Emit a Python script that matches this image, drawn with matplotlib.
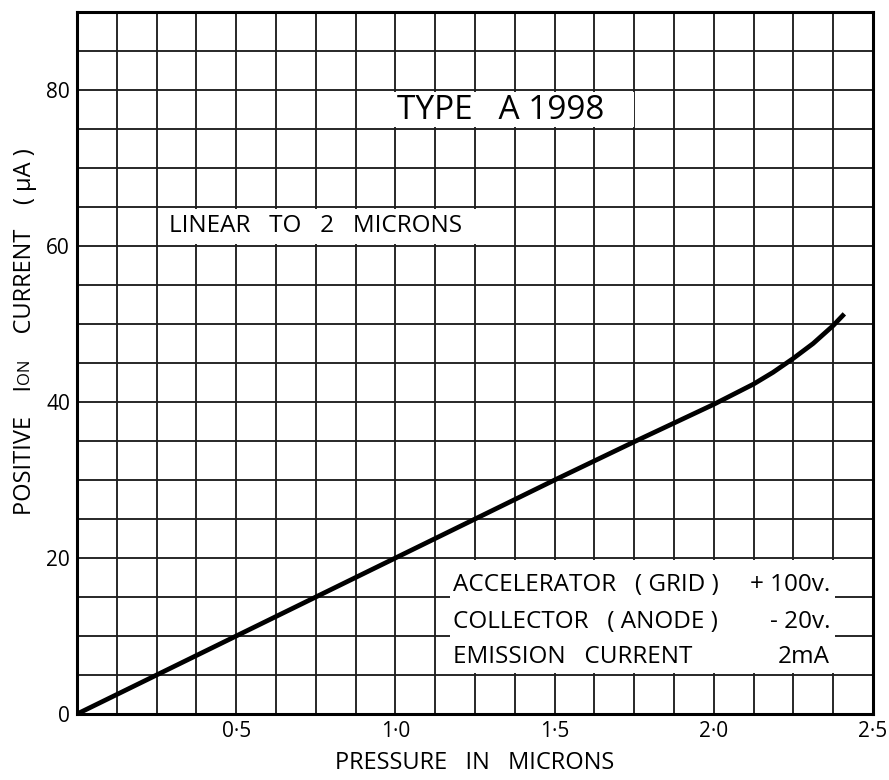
import numpy as np
import matplotlib
matplotlib.use("Agg")
import matplotlib.pyplot as plt
from matplotlib.patches import Rectangle

plt.rcParams['font.family'] = ['Open Sans', 'DejaVu Sans']

# curve
pressure = [0.0, 0.5, 1.0, 1.5, 1.75, 1.875, 2.0, 2.125, 2.186, 2.25, 2.312, 2.375, 2.41]
current = [0.0, 10.0, 20.0, 30.0, 34.9, 37.3, 39.7, 42.3, 43.8, 45.6, 47.5, 49.8, 51.3]

x_ticks = [0.5, 1.0, 1.5, 2.0, 2.5]
x_labels = ['0·5', '1·0', '1·5', '2·0', '2·5']
y_ticks = [0, 20, 40, 60, 80]
y_labels = ['0', '20', '40', '60', '80']

x_grid = np.arange(0, 2.5001, 0.125)
y_grid = np.arange(0, 90.001, 5)

fig = plt.figure(figsize=(8.89, 7.8), dpi=100)
ax = fig.add_axes([77/889, 66/780, 796/889, 702/780])
ax.set_xlim(0, 2.5)
ax.set_ylim(0, 90)

# graph paper
for gx in x_grid:
    ax.axvline(gx, color='#1e1e1e', lw=1.35, zorder=1)
for gy in y_grid:
    ax.axhline(gy, color='#1e1e1e', lw=1.35, zorder=1)

ax.set_xticks(x_ticks)
ax.set_xticklabels(x_labels, fontsize=15)
ax.set_yticks(y_ticks)
ax.set_yticklabels(y_labels, fontsize=15)
ax.tick_params(length=0, pad=5)
for s in ax.spines.values():
    s.set_linewidth(2.2)
    s.set_zorder(5)

ax.plot(pressure, current, color='black', lw=3.4, solid_capstyle='butt',
        solid_joinstyle='round', zorder=4)

# white patches behind the annotations
for (x0, y0, w, h) in [(0.88, 75.3, 0.87, 4.4), (0.255, 60.3, 1.01, 4.4), (1.17, 5.3, 1.21, 14.4)]:
    ax.add_patch(Rectangle((x0, y0), w, h, facecolor='white', edgecolor='none', zorder=2))

ax.text(1.33, 77.4, 'TYPE   A 1998', fontsize=24, ha='center', va='center', zorder=3)
ax.text(0.29, 62.6, 'LINEAR   TO   2   MICRONS', fontsize=17.5, ha='left', va='center', zorder=3)

left_txt = ['ACCELERATOR   ( GRID )', 'COLLECTOR   ( ANODE )', 'EMISSION   CURRENT']
right_txt = ['+ 100v.', '- 20v.', '2mA']
rows_y = [16.5, 11.8, 7.3]
for lt, rt, ry in zip(left_txt, right_txt, rows_y):
    ax.text(1.18, ry, lt, fontsize=17.5, ha='left', va='center', zorder=3)
    ax.text(2.365, ry, rt, fontsize=17.5, ha='right', va='center', zorder=3)

fig.text(475/889, 1 - 763/780, 'PRESSURE   IN   MICRONS', fontsize=17, ha='center', va='center')

# y label built from pieces so "ON" can be small
renderer = fig.canvas.get_renderer()
pieces = [('POSITIVE    I', 17), ('ON', 12), ('    CURRENT    ( μA )', 17)]
ypos = 265
for txt, fs in pieces:
    t = fig.text(25/889, ypos/780, txt, fontsize=fs, rotation=90, rotation_mode='anchor',
                 ha='left', va='center')
    bb = t.get_window_extent(renderer)
    ypos = bb.y1 + 1

fig.savefig('out.png', dpi=100)
